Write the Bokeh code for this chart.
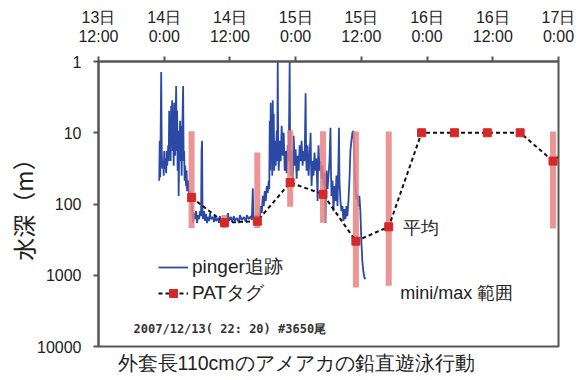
from bokeh.plotting import figure
from bokeh.models import (Range1d, FixedTicker, NumeralTickFormatter, Legend, LegendItem,
                          Label, Title)
from bokeh.embed import file_html
from bokeh.resources import INLINE

# ---- data: hours since 13日 12:00, depth in m ----
tick_hours = [0, 12, 24, 36, 48, 60, 72, 84]
tick_labels = ["13日\n12:00", "14日\n0:00", "14日\n12:00", "15日\n0:00",
               "15日\n12:00", "16日\n0:00", "16日\n12:00", "17日\n0:00"]
depth_ticks = [1, 10, 100, 1000, 10000]

pinger_hours = [
    11.09, 11.18, 11.27, 11.45, 11.55, 11.64, 11.82, 11.91, 12.0, 12.09, 12.18, 12.36, 12.45, 12.55,
    12.73, 12.82, 12.91, 13.0, 13.09, 13.18, 13.27, 13.36, 13.45, 13.55, 13.64, 13.73, 13.82, 13.91,
    14.0, 14.09, 14.18, 14.27, 14.36, 14.45, 14.55, 14.64, 14.73, 14.91, 15.0, 15.09, 15.18, 15.27,
    15.45, 15.55, 15.64, 15.73, 15.82, 16.0, 16.09, 16.18, 16.36, 16.55, 16.73, 16.91, 17.09, 17.27,
    17.45, 17.64, 17.82, 18.0, 18.18, 18.36, 18.55, 18.73, 18.82, 18.91, 19.0, 19.09, 19.27, 19.45,
    19.64, 19.82, 20.0, 20.18, 20.36, 20.55, 20.91, 21.09, 21.27, 21.45, 21.82, 22.0, 22.18, 22.36,
    22.73, 22.91, 23.09, 23.27, 23.64, 23.82, 24.18, 24.36, 24.73, 24.91, 25.27, 25.64, 25.82, 26.18,
    26.55, 26.91, 27.09, 27.45, 27.82, 28.0, 28.18, 28.27, 28.55, 28.73, 29.09, 29.27, 29.45, 29.64,
    29.82, 30.0, 30.18, 30.36, 30.55, 30.73, 30.91, 31.09, 31.18, 31.27, 31.36, 31.45, 31.55, 31.64,
    31.73, 31.82, 31.91, 32.0, 32.09, 32.18, 32.36, 32.55, 32.64, 32.73, 32.82, 32.91, 33.09, 33.27,
    33.45, 33.64, 33.82, 34.0, 34.18, 34.36, 34.55, 34.73, 34.91, 35.0, 35.09, 35.27, 35.45, 35.64,
    35.82, 36.0, 36.18, 36.36, 36.55, 36.73, 36.91, 37.09, 37.27, 37.45, 37.64, 37.82, 37.91, 38.0,
    38.18, 38.36, 38.55, 38.73, 38.82, 38.91, 39.09, 39.27, 39.45, 39.64, 39.82, 40.0, 40.09, 40.18,
    40.36, 40.55, 40.73, 40.91, 41.09, 41.27, 41.45, 41.55, 41.64, 41.82, 42.0, 42.18, 42.36, 42.45,
    42.55, 42.73, 42.91, 43.09, 43.27, 43.45, 43.64, 43.82, 43.91, 44.0, 44.18, 44.36, 44.55, 44.73,
    44.91, 45.09, 45.27, 45.45, 45.64, 45.82, 46.0, 46.18, 46.36, 46.55, 46.73, 46.91, 47.09, 47.27,
    47.45, 47.64, 47.82, 48.0, 48.18, 48.36, 48.55, 48.73]
pinger_depth = [
    47, 13, 42, 1.4, 18, 32, 25, 40, 18, 32, 23, 37, 18, 29,
    15, 25, 4.9, 18, 8, 25, 4.2, 13, 3.5, 18, 5.8, 29, 3.8, 13,
    21, 6.8, 2.2, 18, 4.9, 34, 9.4, 77, 18, 6.8, 25, 8, 40, 13,
    2.2, 25, 18, 47, 29, 56, 34, 66, 47, 82, 66, 91, 107, 185,
    134, 163, 126, 185, 143, 163, 126, 148, 18, 13, 134, 163, 126, 173,
    138, 185, 152, 173, 134, 163, 152, 179, 143, 173, 157, 185, 148, 179,
    157, 198, 163, 185, 134, 173, 152, 179, 148, 173, 157, 185, 143, 168,
    152, 179, 143, 163, 148, 168, 60, 152, 173, 143, 168, 134, 152, 107,
    134, 77, 107, 66, 91, 56, 70, 47, 62, 6.8, 34, 3.8, 25, 5.8,
    40, 3.5, 18, 5.4, 34, 13, 29, 9.4, 25, 1.0, 18, 34, 13, 25,
    8, 21, 10, 34, 18, 37, 15, 25, 1.0, 18, 40, 18, 47, 11,
    29, 17, 44, 21, 34, 15, 25, 13, 29, 18, 25, 2.8, 18, 34,
    15, 40, 21, 10, 29, 56, 25, 40, 19, 34, 23, 91, 25, 15,
    34, 25, 44, 29, 56, 37, 185, 47, 34, 62, 40, 25, 8.5, 34,
    77, 47, 126, 56, 91, 40, 107, 25, 8.5, 47, 91, 126, 107, 173,
    118, 163, 107, 148, 91, 47, 18, 13, 10, 9.4, 25, 56, 85, 73,
    107, 77, 126, 332, 635, 879, 1067, 1138]

pat_hours = [17, 23, 29, 35, 41, 47, 53, 59, 65, 71, 77, 83, 89]
pat_mean = [81, 183, 174, 50, 73, 332, 209, 10, 10, 10, 10, 25, 10]
pat_shallow = [9.5, 143, 19, 9.2, 9.5, 9.6, 9.6, 10, 10, 10, 10, 9.6, 10]
pat_deep = [218, 218, 218, 109, 183, 1480, 1400, 10, 10, 10, 10, 220, 10]

FONT = "Liberation Sans"

p = figure(width=587, height=380, output_backend="svg", toolbar_location=None,
           x_range=Range1d(0, 84), y_range=Range1d(10000, 1), y_axis_type="log",
           x_axis_location="above",
           min_border_left=98, min_border_right=29, min_border_top=61, min_border_bottom=34)
p.grid.visible = False
p.outline_line_color = "#555555"
p.outline_line_width = 2
p.background_fill_color = "white"
p.border_fill_color = "white"

for ax in (p.xaxis[0], p.yaxis[0]):
    ax.axis_line_color = "#555555"
    ax.axis_line_width = 2
    ax.major_tick_line_color = "#555555"
    ax.major_tick_line_width = 2
    ax.major_tick_out = 5
    ax.major_tick_in = 0
    ax.minor_tick_line_color = None
    ax.major_label_text_font = FONT
    ax.major_label_text_font_size = "16px"
    ax.major_label_text_color = "#222222"

p.xaxis[0].ticker = FixedTicker(ticks=tick_hours)
p.xaxis[0].major_label_overrides = {h: lab for h, lab in zip(tick_hours, tick_labels)}
p.xaxis[0].major_label_standoff = 12
p.xaxis[0].major_label_text_line_height = 1.1

p.yaxis[0].ticker = FixedTicker(ticks=depth_ticks)
p.yaxis[0].formatter = NumeralTickFormatter(format="0")
p.yaxis[0].major_label_standoff = 12
p.yaxis[0].axis_label = "水深（m）"
p.yaxis[0].axis_label_text_font = "Noto Sans CJK JP"
p.yaxis[0].axis_label_text_font_size = "23px"
p.yaxis[0].axis_label_text_font_style = "normal"
p.yaxis[0].axis_label_text_color = "#222222"
p.yaxis[0].axis_label_standoff = -6

blue = p.line(pinger_hours, pinger_depth, line_color="#2b4aa6", line_width=1.8)
p.vbar(x=pat_hours, bottom=pat_deep, top=pat_shallow, width=1.1,
       fill_color="#e98282", line_color=None, fill_alpha=0.85)
dash = p.line(pat_hours, pat_mean, line_color="#111111", line_width=2, line_dash="4 3")
sq = p.scatter(pat_hours, pat_mean, marker="square", size=8,
               fill_color="#d62828", line_color="#d62828")

legend = Legend(items=[LegendItem(label="pinger追跡", renderers=[blue]),
                       LegendItem(label="PATタグ", renderers=[dash, sq])],
                location=(60, 40), padding=0, margin=0, spacing=0,
                glyph_width=30, glyph_height=20, label_standoff=4,
                label_text_font=FONT, label_text_font_size="19px",
                label_text_color="#222222",
                border_line_alpha=0, background_fill_alpha=0)
p.add_layout(legend)

p.add_layout(Label(x=55.6, y=218, text="平均", text_font=FONT, text_font_size="18px",
                   text_color="#222222", text_baseline="middle"))
p.add_layout(Label(x=55.1, y=1795, text="mini/max 範囲", text_font=FONT,
                   text_font_size="18px", text_color="#222222", text_baseline="middle"))
p.add_layout(Label(x=6.4, y=5760, text="2007/12/13( 22: 20)  #3650尾",
                   text_font="DejaVu Sans Mono", text_font_size="12px",
                   text_font_style="bold", text_color="#333333", text_baseline="middle"))

p.add_layout(Title(text="外套長110cmのアメアカの鉛直遊泳行動", align="left", offset=19,
                   text_font=FONT, text_font_size="19.5px", text_font_style="normal",
                   text_color="#222222", standoff=6), "below")

open("out.html", "w").write(file_html(p, INLINE))
